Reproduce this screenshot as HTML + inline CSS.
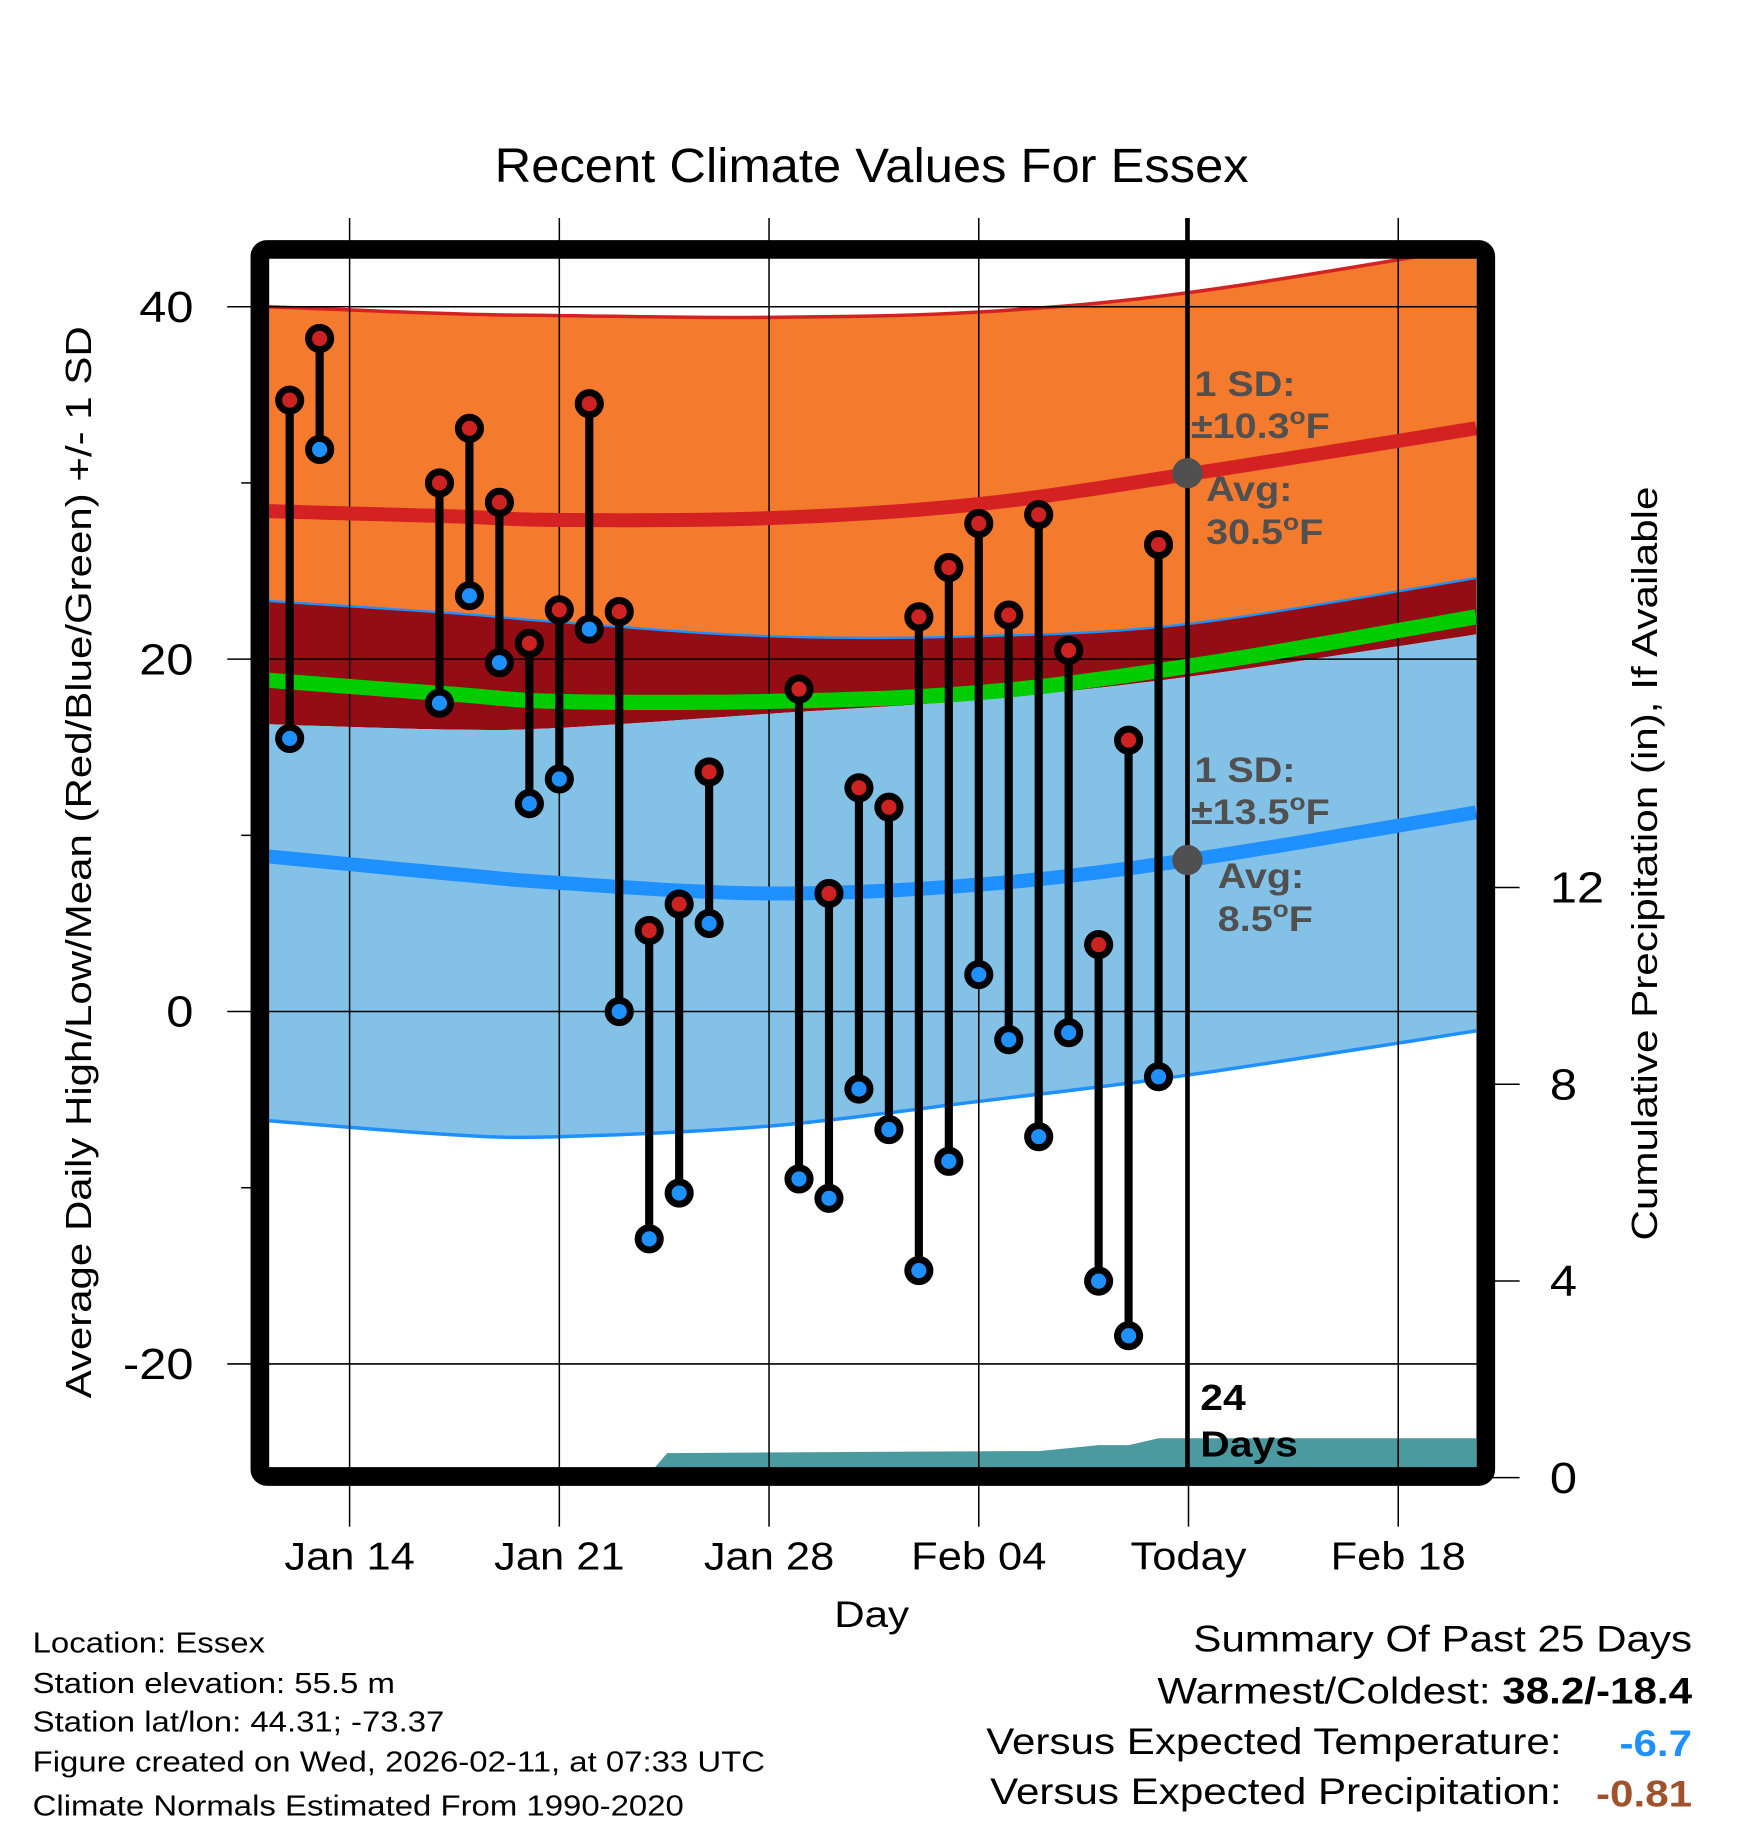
<!DOCTYPE html>
<html><head><meta charset="utf-8"><style>
html,body{margin:0;padding:0;background:#fff;}
svg{display:block;font-family:"Liberation Sans",Arial,sans-serif;}
</style></head><body>
<svg id="chart" width="1748" height="1828" viewBox="0 0 1500 1568.6" xmlns="http://www.w3.org/2000/svg">
<text x="748" y="156" font-size="41" text-anchor="middle" textLength="647" lengthAdjust="spacingAndGlyphs">Recent Climate Values For Essex</text>
<g id="bands"></g>
<g id="precip"></g>
<g id="grid"></g>
<g id="normlines"></g>
<line x1="1019" y1="187" x2="1019" y2="1262" stroke="#000" stroke-width="4"/>
<g id="points"></g>
<rect x="223" y="214" width="1052" height="1053" fill="none" stroke="#000" stroke-width="16" rx="6"/>
<g id="axes"></g>
<g fill="#505050" font-weight="bold" font-size="30">
<text x="1025" y="340">1 SD:</text>
<text x="1022" y="376">±10.3<tspan font-size="20" dy="-12">o</tspan><tspan dy="12">F</tspan></text>
<circle cx="1019" cy="406" r="13"/>
<text x="1035" y="430">Avg:</text>
<text x="1035" y="467">30.5<tspan font-size="20" dy="-12">o</tspan><tspan dy="12">F</tspan></text>
<text x="1025" y="671">1 SD:</text>
<text x="1022" y="707">±13.5<tspan font-size="20" dy="-12">o</tspan><tspan dy="12">F</tspan></text>
<circle cx="1019" cy="738" r="13"/>
<text x="1045" y="762">Avg:</text>
<text x="1045" y="799">8.5<tspan font-size="20" dy="-12">o</tspan><tspan dy="12">F</tspan></text>
</g>
<text x="1030" y="1210" font-size="31" font-weight="bold">24</text>
<text x="1030" y="1250" font-size="31" font-weight="bold">Days</text>
<text transform="translate(78,740) rotate(-90)" font-size="31" text-anchor="middle" textLength="920" lengthAdjust="spacingAndGlyphs">Average Daily High/Low/Mean (Red/Blue/Green) +/- 1 SD</text>
<text transform="translate(1422,741) rotate(-90)" font-size="31" text-anchor="middle" textLength="647" lengthAdjust="spacingAndGlyphs">Cumulative Precipitation (in), If Available</text>
<text x="748" y="1396" font-size="32" text-anchor="middle">Day</text>
<g font-size="25">
<text x="28" y="1418">Location: Essex</text>
<text x="28" y="1453">Station elevation: 55.5 m</text>
<text x="28" y="1486">Station lat/lon: 44.31; -73.37</text>
<text x="28" y="1520">Figure created on Wed, 2026-02-11, at 07:33 UTC</text>
<text x="28" y="1558">Climate Normals Estimated From 1990-2020</text>
</g>
<g font-size="32">
<text x="1452" y="1417" text-anchor="end">Summary Of Past 25 Days</text>
<text x="1452" y="1462" text-anchor="end">Warmest/Coldest: <tspan font-weight="bold">38.2/-18.4</tspan></text>
<text x="1340" y="1505" text-anchor="end">Versus Expected Temperature:</text>
<text x="1452" y="1507" text-anchor="end" fill="#1e90ff" font-weight="bold">-6.7</text>
<text x="1340" y="1548" text-anchor="end">Versus Expected Precipitation:</text>
<text x="1452" y="1550" text-anchor="end" fill="#a0522d" font-weight="bold">-0.81</text>
</g>
</svg>
<script>
// days relative to Jan 14 (0)
const normDays = [-2.7, 3.5, 7, 14, 21, 28, 37.6];
const highPlusSD = [40.0, 39.6, 39.5, 39.4, 39.7, 40.8, 43.4];
const highMean = [28.4, 28.1, 27.9, 28.0, 28.8, 30.5, 33.1];
const highMinusSD = [23.3, 22.6, 22.1, 21.3, 21.3, 22.0, 24.6];
const meanTemp = [18.8, 18.0, 17.6, 17.6, 18.1, 19.6, 22.4];
const lowPlusSD = [16.3, 16.0, 16.1, 16.9, 17.7, 19.0, 21.4];
const lowMean = [8.8, 7.8, 7.3, 6.7, 7.2, 8.6, 11.3];
const lowMinusSD = [-6.2, -7.0, -7.1, -6.5, -5.1, -3.6, -1.1];
const obsDays = [-2,-1,3,4,5,6,7,8,9,10,11,12,15,16,17,18,19,20,21,22,23,24,25,26,27];
const obsHigh = [34.7,38.2,30.0,33.1,28.9,20.9,22.8,34.5,22.7,4.6,6.1,13.6,18.3,6.7,12.7,11.6,22.4,25.2,27.7,22.5,28.2,20.5,3.8,15.4,26.5];
const obsLow = [15.5,31.9,17.5,23.6,19.8,11.8,13.2,21.7,0.0,-12.9,-10.3,5.0,-9.5,-10.6,-4.4,-6.7,-14.7,-8.5,2.1,-1.6,-7.1,-1.2,-15.3,-18.4,-3.7];
const precipDays = [-2.7, 9.9, 10.6, 16.0, 22.0, 23.0, 25.0, 26.0, 27.0, 37.6];
const precipVals = [0, 0, 0.5, 0.52, 0.54, 0.54, 0.66, 0.66, 0.8, 0.8];
const yTicks = [40, 20, 0, -20];
const yMinor = [30, 10, -10];
const y2Ticks = [0, 4, 8, 12];
const xTickDays = [0, 7, 14, 21, 28, 35];
const xTickLabels = ["Jan 14", "Jan 21", "Jan 28", "Feb 04", "Today", "Feb 18"];

const NS = "http://www.w3.org/2000/svg";
const X = d => 300 + d * 25.71;
const Y = v => 868 - v * 15.12;
const Y2 = p => 1268 - p * 42.2;
function mk(tag, attrs, parent) {
  const el = document.createElementNS(NS, tag);
  for (const k in attrs) el.setAttribute(k, attrs[k]);
  parent.appendChild(el);
  return el;
}
function curvePts(vals) {
  const pts = [];
  for (let i = 0; i < normDays.length - 1; i++) {
    const p0 = i > 0 ? i - 1 : i, p3 = i + 2 < normDays.length ? i + 2 : i + 1;
    for (let s = 0; s < 10; s++) {
      const t = s / 10;
      const cr = (a, b, c, d) => 0.5 * ((2 * b) + (-a + c) * t + (2 * a - 5 * b + 4 * c - d) * t * t + (-a + 3 * b - 3 * c + d) * t * t * t);
      pts.push([X(cr(normDays[p0], normDays[i], normDays[i + 1], normDays[p3])), Y(cr(vals[p0], vals[i], vals[i + 1], vals[p3]))]);
    }
  }
  pts.push([X(normDays[normDays.length - 1]), Y(vals[vals.length - 1])]);
  return pts;
}
const toD = pts => pts.map((p, i) => (i ? "L" : "M") + p[0].toFixed(1) + "," + p[1].toFixed(1)).join("");
function band(top, bot, fill, name, g) {
  const a = curvePts(top), b = curvePts(bot).reverse();
  const el = mk("path", {d: toD(a) + toD(b).replace("M", "L") + "Z", fill: fill}, g);
  
  
}
function line(vals, color, w, name, g) {
  const el = mk("path", {d: toD(curvePts(vals)), fill: "none", stroke: color, "stroke-width": w}, g);
  
  
}
const bands = document.getElementById("bands");
const clip = mk("clipPath", {id: "pc"}, mk("defs", {}, document.getElementById("chart")));
mk("rect", {x: 231, y: 221, width: 1036, height: 1040}, clip);
bands.setAttribute("clip-path", "url(#pc)");
band(highPlusSD, highMinusSD, "#f47a2d", "high-sd-band", bands);
band(highMinusSD, lowPlusSD, "#940d15", "overlap-band", bands);
band(lowPlusSD, lowMinusSD, "#84c1e7", "low-sd-band", bands);
line(highPlusSD, "#d42222", 3, "high-plus-sd-line", bands);
line(highMinusSD, "#1e90ff", 2, "high-minus-sd-line", bands);
line(lowMinusSD, "#1e90ff", 3, "low-minus-sd-line", bands);

const pg = document.getElementById("precip");
pg.setAttribute("clip-path", "url(#pc)");
let pd = "M" + X(precipDays[0]) + ",1262";
precipDays.forEach((d, i) => { pd += "L" + X(d).toFixed(1) + "," + Y2(precipVals[i]).toFixed(1); });
pd += "L" + X(precipDays[precipDays.length - 1]) + ",1262Z";
const pa = mk("path", {d: pd, fill: "#4a9aa0"}, pg);



const grid = document.getElementById("grid");
yTicks.forEach(v => {
  const l = mk("line", {x1: 195, x2: 1267, y1: Y(v), y2: Y(v), stroke: "#000", "stroke-width": 1.3}, grid);
  
  
});
xTickDays.forEach(d => {
  const l = mk("line", {x1: X(d), x2: X(d), y1: 187, y2: 1310, stroke: "#000", "stroke-width": 1.3}, grid);
  
  
});

const nl = document.getElementById("normlines");
nl.setAttribute("clip-path", "url(#pc)");
line(highMean, "#d42222", 12, "mean-high-line", nl);
line(meanTemp, "#00cc00", 13, "mean-temp-line", nl);
line(lowMean, "#1e90ff", 12, "mean-low-line", nl);

const pts = document.getElementById("points");
obsDays.forEach((d, i) => {
  const x = X(d);
  const s = mk("line", {x1: x, x2: x, y1: Y(obsHigh[i]), y2: Y(obsLow[i]), stroke: "#000", "stroke-width": 7}, pts);
  
  
  const h = mk("circle", {cx: x, cy: Y(obsHigh[i]), r: 9.5, fill: "#cc2222", stroke: "#000", "stroke-width": 6}, pts);
  
  
  const lo = mk("circle", {cx: x, cy: Y(obsLow[i]), r: 9.5, fill: "#1e90ff", stroke: "#000", "stroke-width": 6}, pts);
  
  
});

const ax = document.getElementById("axes");
yTicks.forEach(v => {
  const t = mk("text", {x: 166, y: Y(v) + 13, "font-size": 37, "text-anchor": "end"}, ax);
  t.textContent = v;
  
  
});
yMinor.forEach(v => {
  const l = mk("line", {x1: 207, x2: 216, y1: Y(v), y2: Y(v), stroke: "#000", "stroke-width": 1.3}, ax);
  
  
});
y2Ticks.forEach(p => {
  const l = mk("line", {x1: 1280, x2: 1304, y1: Y2(p), y2: Y2(p), stroke: "#000", "stroke-width": 1.3}, ax);
  
  
  const t = mk("text", {x: 1330, y: Y2(p) + 13, "font-size": 37}, ax);
  t.textContent = p;
  
  
});
xTickDays.forEach((d, i) => {
  const t = mk("text", {x: X(d), y: 1347, "font-size": 33, "text-anchor": "middle"}, ax);
  t.textContent = xTickLabels[i];
  
  
});

// Widen text horizontally to mimic the reference's wider font
document.querySelectorAll("svg text").forEach(t => {
  if (t.hasAttribute("textLength")) return;
  const w = t.getComputedTextLength();
  if (w > 0) {
    t.setAttribute("textLength", (w * 1.13).toFixed(1));
    t.setAttribute("lengthAdjust", "spacingAndGlyphs");
  }
});
</script>
</body></html>
